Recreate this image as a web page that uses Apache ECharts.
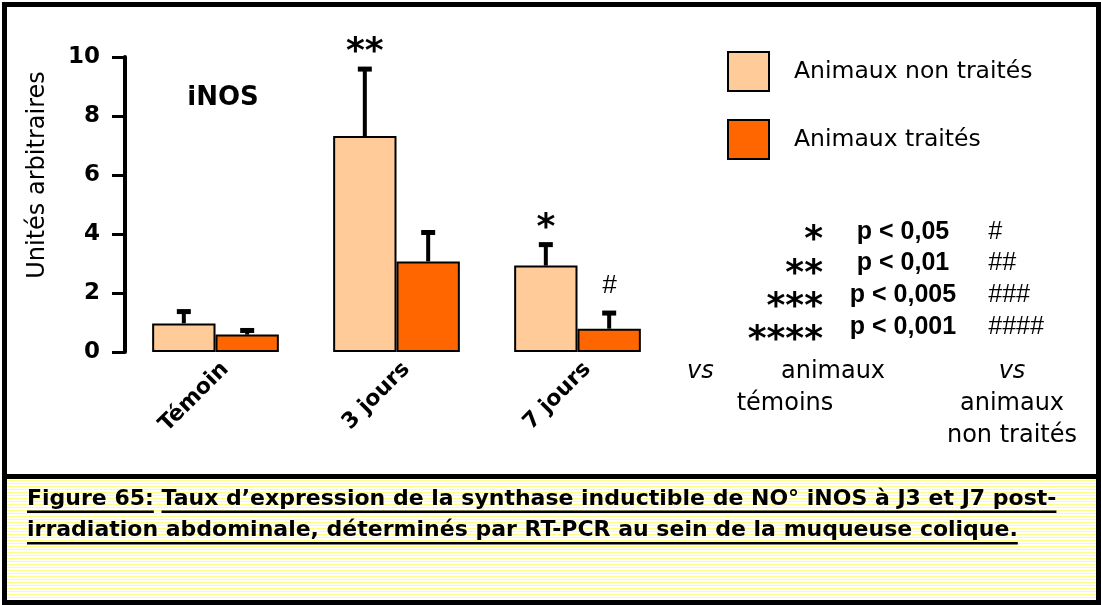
<!DOCTYPE html>
<html>
<head>
<meta charset="utf-8">
<script src="https://cdn.jsdelivr.net/npm/echarts@6/dist/echarts.min.js"></script>
<style>
  html, body { margin: 0; padding: 0; background: #fff; }
  #chart { width: 1101px; height: 605px; }
</style>
</head>
<body>
<div id="chart"></div>
<script>
// iNOS expression (arbitrary units) by time point
const categories = ['Témoin', '3 jours', '7 jours'];
const seriesNames = ['Animaux non traités', 'Animaux traités'];
const untreated = [0.97, 7.32, 2.93];
const untreatedErr = [0.40, 2.27, 0.71];
const treated = [0.59, 3.07, 0.79];
const treatedErr = [0.14, 0.98, 0.53];
// significance marks: vs control animals / vs untreated animals
const sigVsControl = ['', '**', '*'];
const sigVsUntreated = ['', '', '#'];
const yMin = 0, yMax = 10, yStep = 2;
const yAxisName = 'Unités arbitraires';
const panelTitle = 'iNOS';
const pStars = ['*', '**', '***', '****'];
const pLabels = ['p < 0,05', 'p < 0,01', 'p < 0,005', 'p < 0,001'];
const pHashes = ['#', '##', '###', '####'];
const captionHead = 'Figure 65:';
const captionLine1 = 'Taux d’expression de la synthase inductible de NO° iNOS à J3 et J7 post-';
const captionLine2 = 'irradiation abdominale, déterminés par RT-PCR au sein de la muqueuse colique.';

const PALE = '#FFCC99';
const DARK = '#FF6600';
const SANS = "'DejaVu Sans', Verdana, sans-serif";
const ARIAL = "'Liberation Sans', Arial, sans-serif";

const chart = echarts.init(document.getElementById('chart'), null, { renderer: 'canvas' });

// striped caption background
const stripe = document.createElement('canvas');
stripe.width = 4; stripe.height = 3;
const sctx = stripe.getContext('2d');
sctx.fillStyle = '#ffffff'; sctx.fillRect(0, 0, 4, 3);
sctx.fillStyle = '#ffff88'; sctx.fillRect(0, 0, 4, 1);

// text measurement for caption underlines
const mctx = document.createElement('canvas').getContext('2d');
const capFont = "bold 22px " + SANS;
mctx.font = capFont;
const wHead = mctx.measureText(captionHead).width;
const wSpace = mctx.measureText(' ').width;
const wL1 = mctx.measureText(captionLine1).width;
const wL2 = mctx.measureText(captionLine2).width;

function errorBars(values, errs, marks, side, markFont, markGap) {
  return {
    type: 'custom',
    z: 5,
    silent: true,
    data: values.map((v, i) => [i, v, errs[i]]),
    renderItem(params, api) {
      const i = api.value(0), v = api.value(1), e = api.value(2);
      const mark = marks[i];
      const band = api.size([1, 0])[0];
      const bw = band * 0.35;
      const base = api.coord([i, v]);
      const x = base[0] + side * bw / 2;
      const yTop = api.coord([i, v + e])[1];
      const children = [
        { type: 'rect', shape: { x: x - 2, y: yTop, width: 4, height: base[1] - yTop }, style: { fill: '#000' } },
        { type: 'rect', shape: { x: x - 7, y: yTop - 2.5, width: 14, height: 5 }, style: { fill: '#000' } }
      ];
      if (mark) {
        children.push({
          type: 'text',
          style: { text: mark, x: x, y: yTop - markGap, font: markFont, fill: '#000', textAlign: 'center', textVerticalAlign: 'middle' }
        });
      }
      return { type: 'group', children };
    }
  };
}

const graphics = [];
// caption box
graphics.push({ type: 'rect', shape: { x: 7, y: 479, width: 1090, height: 122 }, style: { fill: { image: stripe, repeat: 'repeat' } }, z: 1 });
// frame
[[2, 2, 1099, 5], [2, 2, 5, 603], [1096, 2, 5, 603], [2, 600, 1099, 5], [2, 474, 1099, 5]].forEach(r => {
  graphics.push({ type: 'rect', shape: { x: r[0], y: r[1], width: r[2], height: r[3] }, style: { fill: '#000' }, z: 10 });
});
// axis title and panel title
graphics.push({ type: 'text', x: 38, y: 175, rotation: Math.PI / 2, style: { text: yAxisName, x: 0, y: 0, font: '24px ' + SANS, fill: '#000', textAlign: 'center', textVerticalAlign: 'middle' } });
graphics.push({ type: 'text', style: { text: panelTitle, x: 223, y: 98, font: 'bold 26px ' + SANS, fill: '#000', textAlign: 'center', textVerticalAlign: 'middle' } });
// significance key
const starY = [241, 275, 308, 341];
const rowY = [232, 263, 295, 327];
pStars.forEach((s, k) => {
  graphics.push({ type: 'text', style: { text: s, x: 823, y: starY[k], font: 'bold 36px ' + SANS, fill: '#000', textAlign: 'right', textVerticalAlign: 'middle' } });
  graphics.push({ type: 'text', style: { text: pLabels[k], x: 903, y: rowY[k], font: 'bold 25px ' + ARIAL, fill: '#000', textAlign: 'center', textVerticalAlign: 'middle' } });
  graphics.push({ type: 'text', style: { text: pHashes[k], x: 988, y: rowY[k], font: 'italic 25px ' + ARIAL, fill: '#000', textAlign: 'left', textVerticalAlign: 'middle' } });
});
const keyTexts = [
  ['vs', 687, 372, 'left', 'italic'],
  ['animaux', 833, 372, 'center', 'normal'],
  ['témoins', 785, 404, 'center', 'normal'],
  ['vs', 1012, 372, 'center', 'italic'],
  ['animaux', 1012, 404, 'center', 'normal'],
  ['non traités', 1012, 436, 'center', 'normal']
];
keyTexts.forEach(t => {
  graphics.push({ type: 'text', style: { text: t[0], x: t[1], y: t[2], font: t[4] + ' 24px ' + SANS, fill: '#000', textAlign: t[3], textVerticalAlign: 'middle' } });
});
// caption
const capX = 27;
graphics.push({ type: 'text', z: 5, style: { text: captionHead + ' ' + captionLine1, x: capX, y: 499.5, font: capFont, fill: '#000', textAlign: 'left', textVerticalAlign: 'middle' } });
graphics.push({ type: 'text', z: 5, style: { text: captionLine2, x: capX, y: 530.5, font: capFont, fill: '#000', textAlign: 'left', textVerticalAlign: 'middle' } });
graphics.push({ type: 'rect', z: 5, shape: { x: capX, y: 510.5, width: wHead, height: 2.5 }, style: { fill: '#000' } });
graphics.push({ type: 'rect', z: 5, shape: { x: capX + wHead + wSpace, y: 510.5, width: wL1, height: 2.5 }, style: { fill: '#000' } });
graphics.push({ type: 'rect', z: 5, shape: { x: capX, y: 542, width: wL2, height: 2.5 }, style: { fill: '#000' } });

const option = {
  backgroundColor: '#ffffff',
  animation: false,
  grid: { left: 125, right: 433, top: 57, bottom: 253, containLabel: false },
  legend: {
    data: seriesNames,
    orient: 'vertical',
    left: 722,
    top: 46,
    itemWidth: 41,
    itemHeight: 39,
    itemGap: 27,
    icon: 'rect',
    selectedMode: false,
    itemStyle: { borderColor: '#000', borderWidth: 2 },
    textStyle: { fontFamily: SANS, fontSize: 23.5, color: '#000', padding: [0, 0, 0, 20] }
  },
  xAxis: {
    type: 'category',
    data: categories,
    axisLine: { show: false },
    axisTick: { show: false },
    axisLabel: {
      rotate: 45, margin: 4, align: 'right', verticalAlign: 'top', padding: [3, 0, 0, 0],
      fontFamily: SANS, fontWeight: 'bold', fontSize: 22, color: '#000', interval: 0
    }
  },
  yAxis: {
    type: 'value',
    min: yMin, max: yMax, interval: yStep,
    splitLine: { show: false },
    axisLine: { show: true, lineStyle: { color: '#000', width: 4 } },
    axisTick: { show: true, length: 13, lineStyle: { color: '#000', width: 3 } },
    axisLabel: { margin: 25, fontFamily: SANS, fontWeight: 'bold', fontSize: 23, color: '#000' }
  },
  series: [
    {
      name: seriesNames[0], type: 'bar', data: untreated,
      barGap: '0%', barCategoryGap: '30%',
      itemStyle: { color: PALE, borderColor: '#000', borderWidth: 2 }
    },
    {
      name: seriesNames[1], type: 'bar', data: treated,
      barGap: '0%', barCategoryGap: '30%',
      itemStyle: { color: DARK, borderColor: '#000', borderWidth: 2 }
    },
    errorBars(untreated, untreatedErr, sigVsControl, -1, 'bold 36px ' + SANS, 16),
    errorBars(treated, treatedErr, sigVsUntreated, 1, 'italic 26px ' + ARIAL, 27)
  ],
  graphic: { elements: graphics }
};
chart.setOption(option);
</script>
</body>
</html>
